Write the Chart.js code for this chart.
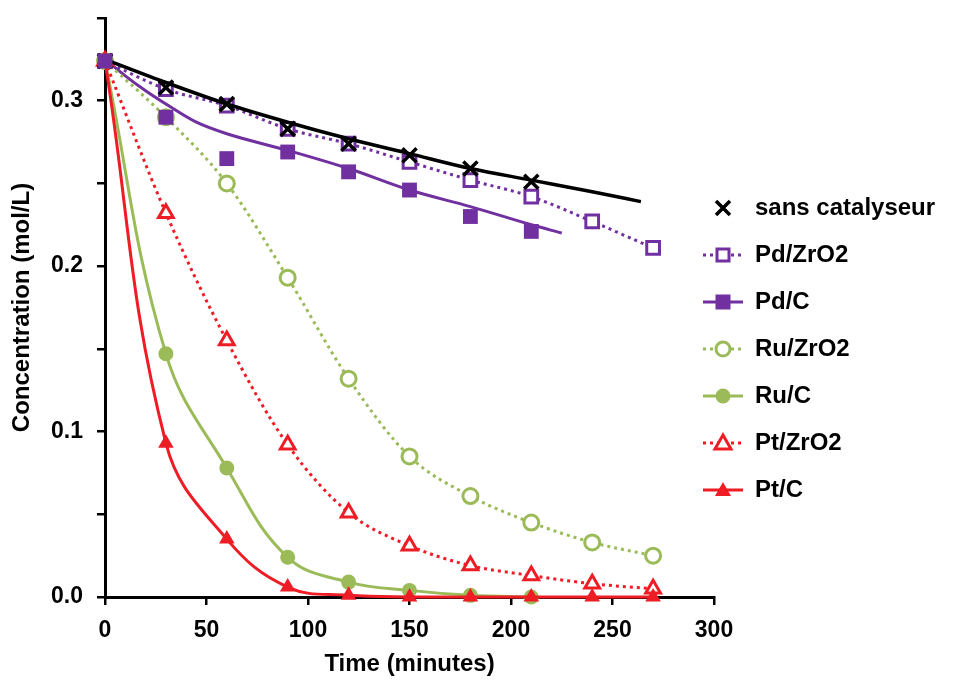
<!DOCTYPE html>
<html><head><meta charset="utf-8">
<script src="https://cdn.jsdelivr.net/npm/chart.js@4.4.1/dist/chart.umd.min.js"></script>
<style>html,body{margin:0;padding:0;background:#fff}#wrap{width:959px;height:680px;position:relative}</style>
</head><body><div id="wrap"><canvas id="c" width="959" height="680"></canvas></div>
<script>
// ---- data ----
const times = [0, 30, 60, 90, 120, 150, 180, 210, 240, 270];
const sansTimes = [0, 30, 60, 90, 120, 150, 180, 210];
const sansValues = [0.324, 0.308, 0.298, 0.283, 0.274, 0.267, 0.259, 0.251];
const sansFitTimes = [0, 30, 60, 90, 120, 150, 180, 210, 240, 264];
const sansFitValues = [0.325, 0.311, 0.298, 0.287, 0.277, 0.268, 0.259, 0.252, 0.245, 0.239];
const pdZrO2Values = [0.324, 0.307, 0.297, 0.283, 0.274, 0.263, 0.252, 0.242, 0.227, 0.211];
const pdCTimes = [0, 30, 60, 90, 120, 150, 180, 210];
const pdCValues = [0.324, 0.290, 0.265, 0.269, 0.257, 0.246, 0.230, 0.221];
const pdCFitTimes = [0, 10, 20, 30, 45, 60, 90, 120, 150, 180, 210, 225];
const pdCFitValues = [0.325, 0.315, 0.306, 0.298, 0.287, 0.280, 0.270, 0.259, 0.246, 0.236, 0.225, 0.220];
const ruZrO2Values = [0.324, 0.290, 0.250, 0.193, 0.132, 0.085, 0.061, 0.045, 0.033, 0.025];
const ruCTimes = [0, 30, 60, 90, 120, 150, 180, 210];
const ruCValues = [0.324, 0.147, 0.078, 0.024, 0.009, 0.004, 0.001, 0.000];
const ptZrO2Values = [0.324, 0.232, 0.155, 0.092, 0.051, 0.031, 0.019, 0.013, 0.008, 0.005];
const ptCValues = [0.324, 0.093, 0.035, 0.006, 0.001, 0.000, 0.000, 0.000, 0.000, 0.000];
const seriesNames = ['sans catalyseur', 'Pd/ZrO2', 'Pd/C', 'Ru/ZrO2', 'Ru/C', 'Pt/ZrO2', 'Pt/C'];
const xTickValues = [0, 50, 100, 150, 200, 250, 300];
const yTickLabels = ['0.0', '0.1', '0.2', '0.3'];

const PURPLE = '#7030A0', GREEN = '#9BBB59', RED = '#EE1C25', BLACK = '#000000';
const FONT = "'Liberation Sans', Arial, sans-serif";

const pts = (xs, ys) => xs.map((x, i) => ({x: x, y: ys[i]}));

function makeIcon(color, lineMode, marker, filled) {
  const c = document.createElement('canvas');
  c.width = 40; c.height = 22;
  const g = c.getContext('2d');
  g.strokeStyle = color; g.fillStyle = color;
  if (lineMode) {
    g.lineWidth = 3;
    g.setLineDash(lineMode === 'dot' ? [3, 4] : []);
    g.beginPath(); g.moveTo(0, 11); g.lineTo(40, 11); g.stroke();
    g.setLineDash([]);
  }
  g.lineWidth = 3;
  g.beginPath();
  if (marker === 'cross') {
    g.lineWidth = 3.5;
    g.moveTo(13, 4); g.lineTo(27, 18); g.moveTo(27, 4); g.lineTo(13, 18);
    g.stroke(); return c;
  }
  if (marker === 'rect') {
    if (filled) { g.fillRect(12.5, 3.5, 15, 15); }
    else { g.fillStyle = '#fff'; g.fillRect(13, 4, 14, 14); g.strokeRect(14, 5, 12, 12); }
  } else if (marker === 'circle') {
    g.arc(20, 11, filled ? 7.5 : 7, 0, Math.PI * 2);
    if (filled) g.fill(); else { g.fillStyle = '#fff'; g.fill(); g.stroke(); }
  } else if (marker === 'triangle') {
    g.moveTo(20, 3); g.lineTo(28, 17); g.lineTo(12, 17); g.closePath();
    if (filled) g.fill(); else { g.fillStyle = '#fff'; g.fill(); g.stroke(); }
  }
  return c;
}

const icons = {
  'sans catalyseur': makeIcon(BLACK, null, 'cross', true),
  'Pd/ZrO2': makeIcon(PURPLE, 'dot', 'rect', false),
  'Pd/C': makeIcon(PURPLE, 'solid', 'rect', true),
  'Ru/ZrO2': makeIcon(GREEN, 'dot', 'circle', false),
  'Ru/C': makeIcon(GREEN, 'solid', 'circle', true),
  'Pt/ZrO2': makeIcon(RED, 'dot', 'triangle', false),
  'Pt/C': makeIcon(RED, 'solid', 'triangle', true)
};

const common = {clip: false, cubicInterpolationMode: 'monotone', borderWidth: 3, pointBorderWidth: 3};
const smooth = {cubicInterpolationMode: 'default', tension: 0.4};

// first dataset is drawn on top
const datasets = [
  Object.assign({}, common, {label: seriesNames[2], data: pts(pdCTimes, pdCValues), showLine: false, borderColor: PURPLE,
    pointStyle: 'rect', pointRadius: 10.5, pointBackgroundColor: PURPLE, pointBorderColor: PURPLE, pointBorderWidth: 0}),
  Object.assign({}, common, {label: seriesNames[0], data: pts(sansTimes, sansValues), showLine: false, borderColor: BLACK,
    pointStyle: 'crossRot', pointRadius: 10, pointBorderColor: BLACK, pointBorderWidth: 3.5}),
  Object.assign({}, common, {label: 'sans fit', data: pts(sansFitTimes, sansFitValues), borderColor: BLACK, borderWidth: 3.5, pointRadius: 0}),
  Object.assign({}, common, smooth, {label: seriesNames[6], data: pts(times, ptCValues), borderColor: RED, backgroundColor: RED,
    pointStyle: 'triangle', pointRadius: 9, pointBackgroundColor: RED, pointBorderColor: RED, pointBorderWidth: 0}),
  Object.assign({}, common, {label: seriesNames[5], data: pts(times, ptZrO2Values), borderColor: RED, borderDash: [3, 4],
    pointStyle: 'triangle', pointRadius: 8.5, pointBackgroundColor: '#fff', pointBorderColor: RED}),
  Object.assign({}, common, smooth, {label: seriesNames[4], data: pts(ruCTimes, ruCValues), borderColor: GREEN,
    pointStyle: 'circle', pointRadius: 7.5, pointBackgroundColor: GREEN, pointBorderColor: GREEN, pointBorderWidth: 0}),
  Object.assign({}, common, {label: seriesNames[3], data: pts(times, ruZrO2Values), borderColor: GREEN, borderDash: [3, 4],
    pointStyle: 'circle', pointRadius: 7.5, pointBackgroundColor: '#fff', pointBorderColor: GREEN}),
  Object.assign({}, common, {label: 'Pd/C fit', data: pts(pdCFitTimes, pdCFitValues), borderColor: PURPLE, pointRadius: 0}),
  Object.assign({}, common, {label: seriesNames[1], data: pts(times, pdZrO2Values), borderColor: PURPLE, borderDash: [3, 4],
    pointStyle: 'rect', pointRadius: 9, pointBackgroundColor: '#fff', pointBorderColor: PURPLE})
];

const legendPlace = {
  id: 'legendPlace',
  afterLayout(chart) {
    const lg = chart.legend;
    if (!lg) return;
    const w = lg.width, h = lg.height;
    lg.left = 680; lg.right = 680 + w;
    lg.top = 173; lg.bottom = 173 + h;
  }
};

new Chart(document.getElementById('c'), {
  type: 'line',
  data: {datasets: datasets},
  options: {
    responsive: false,
    animation: false,
    devicePixelRatio: 1,
    layout: {padding: {left: 0, top: 18, right: 245, bottom: 0}},
    plugins: {
      tooltip: {enabled: false},
      legend: {
        position: 'chartArea',
        align: 'start',
        labels: {
          usePointStyle: true,
          pointStyleWidth: 40,
          padding: 23,
          color: '#000',
          font: {family: FONT, size: 24, weight: 'bold'},
          filter: (item) => seriesNames.includes(item.text),
          sort: (a, b) => seriesNames.indexOf(a.text) - seriesNames.indexOf(b.text),
          generateLabels: (chart) => {
            const items = Chart.defaults.plugins.legend.labels.generateLabels(chart);
            items.forEach(it => { if (icons[it.text]) it.pointStyle = icons[it.text]; });
            return items;
          }
        }
      }
    },
    scales: {
      x: {
        type: 'linear', min: 0, max: 300,
        afterFit: (s) => { s.height = 83; },
        afterBuildTicks: (s) => { s.ticks = xTickValues.map(v => ({value: v})); },
        ticks: {color: '#000', padding: 12, font: {family: FONT, size: 23, weight: 'bold'}, maxRotation: 0,
          callback: (v) => String(v)},
        grid: {display: true, drawOnChartArea: false, drawTicks: true, tickLength: 8, color: '#000', lineWidth: 2.5},
        border: {display: true, color: '#000', width: 3},
        title: {display: true, text: 'Time (minutes)', color: '#000', padding: {top: 0, bottom: 1},
          font: {family: FONT, size: 24, weight: 'bold'}}
      },
      y: {
        type: 'linear', min: 0, max: 0.35,
        afterFit: (s) => { s.width = 105; s.paddingTop = 0; s.paddingBottom = 0; },
        ticks: {color: '#000', padding: 14, stepSize: 0.05, font: {family: FONT, size: 23, weight: 'bold'},
          callback: (v) => {
            const i = yTickLabels.findIndex(t => Math.abs(parseFloat(t) - v) < 1e-6);
            return i >= 0 ? yTickLabels[i] : '';
          }},
        grid: {display: true, drawOnChartArea: false, drawTicks: true, tickLength: 8, color: '#000', lineWidth: 2.5},
        border: {display: true, color: '#000', width: 3},
        title: {display: true, text: 'Concentration (mol/L)', color: '#000', padding: {top: 8, bottom: 0},
          font: {family: FONT, size: 24, weight: 'bold'}}
      }
    }
  },
  plugins: [legendPlace]
});
</script>
</body></html>
